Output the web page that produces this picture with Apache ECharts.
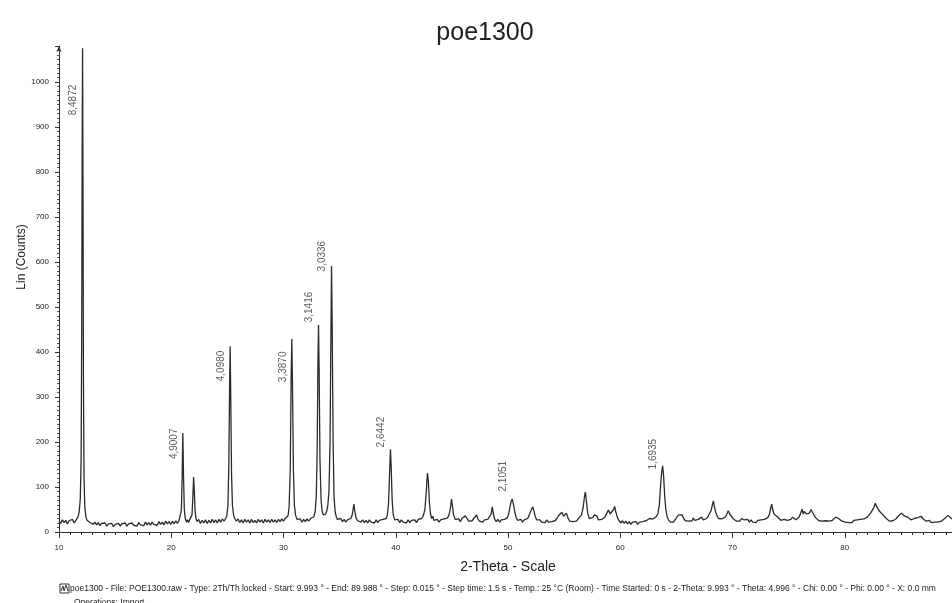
<!DOCTYPE html>
<html>
<head>
<meta charset="utf-8">
<title>poe1300</title>
<script src="https://cdn.jsdelivr.net/npm/echarts@6/dist/echarts.min.js"></script>
<style>
  html, body { margin: 0; padding: 0; background: #fff; }
  #chart { width: 952px; height: 603px; }
</style>
</head>
<body>
<div id="chart"></div>
<script>
// scan, [2theta, counts], split by decade
const scan10 = [[10.0,24],[10.15,19],[10.3,27],[10.45,21],[10.6,26],[10.75,18],[10.9,25],[11.05,22],[11.2,28],[11.35,20],[11.5,26],[11.6,30],[11.7,34],[11.8,45],[11.9,75],[11.97,160],[12.02,420],[12.06,820],[12.10,1075],[12.14,760],[12.18,330],[12.23,120],[12.3,55],[12.4,33],[12.5,26],[12.6,30],[12.75,21],[12.9,25],[13.05,17],[13.2,22],[13.35,16],[13.5,21],[13.65,14],[13.8,19],[13.95,15],[14.1,20],[14.25,13],[14.4,18],[14.55,14],[14.7,19],[14.85,12],[15.0,17],[15.15,14],[15.3,19],[15.45,13],[15.6,18],[15.75,15],[15.9,20],[16.05,13],[16.2,18],[16.35,14],[16.5,20],[16.65,15],[16.8,19],[16.95,13],[17.1,21],[17.25,16],[17.4,20],[17.55,14],[17.7,22],[17.85,16],[18.0,21],[18.15,15],[18.3,22],[18.45,17],[18.6,21],[18.75,15],[18.9,23],[19.05,17],[19.2,22],[19.35,16],[19.5,24],[19.65,18],[19.8,23],[19.95,17]];
const scan20 = [[20.1,24],[20.25,18],[20.4,25],[20.55,19],[20.7,26],[20.8,30],[20.9,48],[20.97,120],[21.03,220],[21.09,130],[21.16,52],[21.25,30],[21.35,22],[21.45,27],[21.55,21],[21.65,28],[21.75,26],[21.85,38],[21.93,80],[21.99,122],[22.05,95],[22.12,48],[22.2,30],[22.3,23],[22.45,28],[22.6,19],[22.75,26],[22.9,20],[23.05,27],[23.2,19],[23.35,26],[23.5,20],[23.65,28],[23.8,21],[23.95,27],[24.1,20],[24.25,28],[24.4,22],[24.55,29],[24.7,24],[24.85,30],[24.95,36],[25.05,60],[25.13,150],[25.2,330],[25.25,413],[25.3,300],[25.37,130],[25.45,60],[25.55,38],[25.65,30],[25.8,24],[25.95,29],[26.1,21],[26.25,27],[26.4,20],[26.55,28],[26.7,22],[26.85,27],[27.0,20],[27.15,28],[27.3,21],[27.45,26],[27.6,20],[27.75,28],[27.9,22],[28.05,27],[28.2,20],[28.35,28],[28.5,22],[28.65,27],[28.8,21],[28.95,28],[29.1,22],[29.25,27],[29.4,21],[29.55,28],[29.7,23],[29.85,29]];
const scan30 = [[30.0,24],[30.15,30],[30.3,28],[30.4,36],[30.5,55],[30.6,140],[30.68,340],[30.74,429],[30.8,330],[30.88,140],[30.97,60],[31.07,38],[31.2,28],[31.35,24],[31.5,29],[31.65,22],[31.8,28],[31.95,23],[32.1,29],[32.25,24],[32.4,30],[32.55,27],[32.7,34],[32.82,45],[32.92,80],[33.0,180],[33.07,380],[33.12,460],[33.17,370],[33.25,160],[33.35,70],[33.45,45],[33.55,38],[33.65,36],[33.75,40],[33.85,46],[33.95,60],[34.05,90],[34.15,200],[34.22,430],[34.28,591],[34.34,450],[34.42,200],[34.5,80],[34.6,45],[34.7,34],[34.8,28],[34.95,25],[35.1,30],[35.25,23],[35.4,28],[35.55,22],[35.7,27],[35.85,24],[36.0,30],[36.1,36],[36.2,50],[36.27,62],[36.34,48],[36.45,32],[36.6,25],[36.75,29],[36.9,22],[37.05,27],[37.2,21],[37.35,26],[37.5,20],[37.65,27],[37.8,22],[37.95,26],[38.1,20],[38.25,27],[38.4,21],[38.55,26],[38.7,22],[38.85,28],[39.0,24],[39.15,30],[39.25,38],[39.35,60],[39.45,130],[39.53,184],[39.6,140],[39.68,70],[39.78,38],[39.9,27]];
const scan40 = [[40.05,23],[40.2,28],[40.35,21],[40.5,27],[40.65,22],[40.8,26],[40.95,20],[41.1,27],[41.25,21],[41.4,26],[41.55,22],[41.7,27],[41.85,21],[42.0,28],[42.15,24],[42.3,30],[42.45,36],[42.6,50],[42.72,90],[42.82,131],[42.9,115],[43.0,65],[43.1,40],[43.2,30],[43.3,35],[43.4,26],[43.55,23],[43.7,28],[43.85,22],[44.0,27],[44.15,23],[44.3,29],[44.45,25],[44.6,31],[44.75,38],[44.88,55],[44.97,73],[45.05,58],[45.15,38],[45.3,28],[45.45,24],[45.6,29],[45.75,23],[45.9,30],[46.05,28],[46.2,36],[46.35,30],[46.5,24],[46.65,28],[46.8,25],[46.95,30],[47.1,34],[47.2,38],[47.3,30],[47.45,24],[47.6,28],[47.75,22],[47.9,27],[48.05,23],[48.2,28],[48.35,26],[48.5,40],[48.6,56],[48.7,40],[48.82,28],[48.95,23],[49.1,28],[49.25,22],[49.4,27],[49.55,23],[49.7,28],[49.85,26],[49.95,32]];
const scan50 = [[50.05,40],[50.15,52],[50.28,68],[50.38,73],[50.48,62],[50.6,45],[50.72,33],[50.85,26],[51.0,23],[51.15,28],[51.3,22],[51.45,27],[51.6,24],[51.75,30],[51.9,38],[52.0,45],[52.1,42],[52.2,56],[52.3,48],[52.42,35],[52.55,27],[52.7,23],[52.85,27],[53.0,22],[53.15,26],[53.3,21],[53.45,27],[53.6,22],[53.75,26],[53.9,23],[54.05,27],[54.2,25],[54.35,30],[54.5,36],[54.65,33],[54.8,44],[54.95,35],[55.1,38],[55.2,42],[55.35,31],[55.5,24],[55.65,28],[55.8,23],[55.95,27],[56.1,24],[56.25,29],[56.4,30],[56.55,38],[56.7,55],[56.82,80],[56.9,89],[56.98,70],[57.1,42],[57.25,30],[57.4,27],[57.55,32],[57.7,38],[57.8,42],[57.9,36],[58.05,27],[58.2,23],[58.35,28],[58.5,27],[58.65,34],[58.8,42],[58.95,49],[59.1,40],[59.25,45],[59.4,50],[59.5,57],[59.6,45],[59.75,32],[59.9,25]];
const scan60 = [[60.05,20],[60.2,25],[60.35,19],[60.5,24],[60.65,18],[60.8,23],[60.95,17],[61.1,22],[61.25,18],[61.4,23],[61.55,17],[61.7,22],[61.85,19],[62.0,23],[62.15,20],[62.3,25],[62.45,23],[62.6,30],[62.75,26],[62.9,29],[63.05,27],[63.2,34],[63.35,40],[63.48,60],[63.6,105],[63.7,135],[63.78,147],[63.86,125],[63.96,80],[64.06,50],[64.18,34],[64.3,27],[64.45,22],[64.6,26],[64.75,22],[64.9,28],[65.05,32],[65.2,38],[65.35,34],[65.5,38],[65.65,30],[65.8,25],[65.95,29],[66.1,24],[66.25,28],[66.4,25],[66.5,31],[66.65,26],[66.8,23],[66.95,28],[67.1,26],[67.25,33],[67.4,27],[67.55,31],[67.7,30],[67.85,36],[68.0,40],[68.1,48],[68.2,60],[68.3,69],[68.4,55],[68.5,44],[68.62,36],[68.75,30],[68.9,26],[69.05,29],[69.2,27],[69.35,33],[69.5,40],[69.62,47],[69.75,40],[69.9,36]];
const scan70 = [[70.05,30],[70.2,27],[70.35,24],[70.5,28],[70.65,24],[70.8,30],[70.9,33],[71.05,27],[71.2,24],[71.35,28],[71.5,22],[71.65,27],[71.8,22],[71.95,26],[72.1,21],[72.25,26],[72.4,22],[72.55,27],[72.7,24],[72.85,28],[73.0,26],[73.15,32],[73.3,40],[73.42,55],[73.5,62],[73.58,50],[73.7,40],[73.85,42],[74.0,34],[74.15,30],[74.3,26],[74.45,24],[74.6,28],[74.75,25],[74.9,26],[75.05,30],[75.2,28],[75.35,33],[75.5,30],[75.65,27],[75.8,28],[75.95,34],[76.1,44],[76.2,51],[76.3,40],[76.4,46],[76.5,50],[76.6,40],[76.7,36],[76.85,42],[77.0,50],[77.1,45],[77.25,38],[77.4,32],[77.55,28],[77.7,25],[77.85,28],[78.0,24],[78.15,27],[78.3,25],[78.45,28],[78.6,24],[78.75,27],[78.9,26],[79.05,30],[79.2,33],[79.3,35],[79.45,30],[79.6,26],[79.75,24],[79.9,27]];
const scan80 = [[80.05,22],[80.2,26],[80.35,21],[80.5,25],[80.65,21],[80.8,26],[80.95,22],[81.1,27],[81.25,23],[81.4,28],[81.55,24],[81.7,29],[81.85,28],[82.0,33],[82.15,36],[82.3,42],[82.45,48],[82.6,55],[82.72,64],[82.82,58],[82.95,52],[83.1,46],[83.25,44],[83.4,38],[83.55,34],[83.7,30],[83.85,27],[84.0,24],[84.15,26],[84.3,25],[84.45,28],[84.6,30],[84.75,35],[84.9,38],[85.05,42],[85.15,43],[85.3,36],[85.45,40],[85.6,33],[85.75,30],[85.9,27],[86.05,28],[86.2,30],[86.35,29],[86.5,32],[86.65,34],[86.8,35],[86.95,30],[87.1,26],[87.25,24],[87.4,22],[87.55,26],[87.7,21],[87.85,25],[88.0,22],[88.15,26],[88.3,22],[88.45,25],[88.6,24],[88.75,27],[88.9,30],[89.05,33],[89.2,37],[89.35,33],[89.5,30],[89.7,28],[89.9,25]];

// labelled peaks: d-spacing, 2theta, and the count level the text sits at
const peakD = ['8,4872', '4,9007', '4,0980', '3,3870', '3,1416', '3,0336', '2,6442', '2,1051', '1,6935'];
const peakTheta = [12.10, 21.03, 25.25, 30.74, 33.12, 34.28, 39.53, 50.38, 63.78];
const labelLevel = [960, 196, 369, 367, 500, 613, 222, 124, 173];

const infoLine = 'poe1300 - File: POE1300.raw - Type: 2Th/Th locked - Start: 9.993 \u00b0 - End: 89.988 \u00b0 - Step: 0.015 \u00b0 - Step time: 1.5 s - Temp.: 25 \u00b0C (Room) - Time Started: 0 s - 2-Theta: 9.993 \u00b0 - Theta: 4.996 \u00b0 - Chi: 0.00 \u00b0 - Phi: 0.00 \u00b0 - X: 0.0 mm';

const scan = [].concat(scan10, scan20, scan30, scan40, scan50, scan60, scan70, scan80);
const labelData = peakD.map(function (d, i) {
    // text sits just left of its peak line
    return { name: d, value: [peakTheta[i] - 0.8, labelLevel[i]] };
});

const font = 'Liberation Sans, Arial, sans-serif';
const chart = echarts.init(document.getElementById('chart'));

chart.setOption({
    animation: false,
    backgroundColor: '#fff',
    grid: { left: 59, right: -5, top: 46, bottom: 71, outerBoundsMode: 'none', containLabel: false },
    xAxis: {
        type: 'value',
        min: 10,
        max: 90,
        interval: 10,
        name: '2-Theta - Scale',
        nameLocation: 'middle',
        nameGap: 28,
        nameTextStyle: { fontFamily: font, fontSize: 14, color: '#222' },
        axisLine: { lineStyle: { color: '#333', width: 1 } },
        axisTick: { show: true, inside: false, length: 6, lineStyle: { color: '#333' } },
        minorTick: { show: true, splitNumber: 10, length: 3, lineStyle: { color: '#333' } },
        axisLabel: { margin: 12, fontFamily: font, fontSize: 8, color: '#222', formatter: function (v) { return String(v); } },
        splitLine: { show: false }
    },
    yAxis: {
        type: 'value',
        min: 0,
        max: 1080,
        interval: 100,
        axisLine: { show: true, symbol: ['none', 'arrow'], symbolSize: [4, 6], lineStyle: { color: '#333', width: 1 } },
        axisTick: { show: true, length: 4, lineStyle: { color: '#333' } },
        minorTick: { show: true, splitNumber: 10, length: 2, lineStyle: { color: '#555' } },
        axisLabel: { margin: 10, fontFamily: font, fontSize: 8, color: '#222', showMaxLabel: false, formatter: function (v) { return String(v); } },
        splitLine: { show: false }
    },
    graphic: [
        { type: 'text', x: 485, y: 33, style: { text: 'poe1300', fontFamily: font, fontSize: 25, fill: '#222', align: 'center', verticalAlign: 'middle' } },
        { type: 'text', x: 22, y: 257, rotation: Math.PI / 2, style: { text: 'Lin (Counts)', fontFamily: font, fontSize: 12, fill: '#222', align: 'center', verticalAlign: 'middle' } },
        { type: 'rect', shape: { x: 60, y: 584, width: 9, height: 9 }, style: { fill: 'none', stroke: '#333', lineWidth: 1 } },
        { type: 'polyline', shape: { points: [[61, 591], [63, 586], [64, 591], [66, 585], [68, 591]] }, style: { fill: 'none', stroke: '#333', lineWidth: 1 } },
        { type: 'text', x: 70, y: 589, style: { text: infoLine, fontFamily: font, fontSize: 8.5, fill: '#222', align: 'left', verticalAlign: 'middle' } },
        { type: 'text', x: 74, y: 603, style: { text: 'Operations: Import', fontFamily: font, fontSize: 8.5, fill: '#222', align: 'left', verticalAlign: 'middle' } }
    ],
    series: [
        {
            name: 'poe1300',
            type: 'line',
            data: scan,
            showSymbol: false,
            sampling: false,
            clip: true,
            lineStyle: { color: '#2b2b2b', width: 1.3 },
            z: 2
        },
        {
            name: 'd-spacing',
            type: 'scatter',
            data: labelData,
            symbolSize: 1,
            itemStyle: { color: 'rgba(0,0,0,0)' },
            label: {
                show: true,
                position: 'inside',
                rotate: 90,
                formatter: '{b}',
                fontFamily: font,
                fontSize: 10,
                color: '#333',
                align: 'center',
                verticalAlign: 'middle'
            },
            z: 3
        }
    ]
});
</script>
</body>
</html>
